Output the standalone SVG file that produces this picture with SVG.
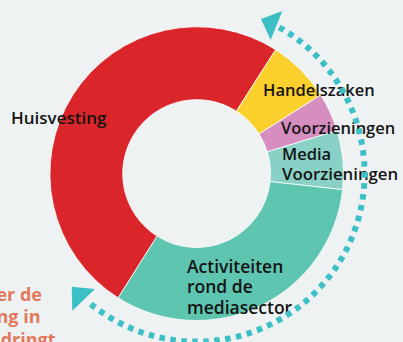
<svg xmlns="http://www.w3.org/2000/svg" width="403" height="342" viewBox="0 0 403 342">
<style>
.seg{stroke:#ffffff;stroke-width:0.8;stroke-linejoin:round}
.lbl{font-family:"Open Sans","Liberation Sans",sans-serif;font-weight:600;font-size:16.5px;fill:#141414}
.big{font-size:17.5px}
.side{font-family:"Open Sans","Liberation Sans",sans-serif;font-weight:700;font-size:18px;fill:#E2795D}
.arc{fill:none;stroke:#3DC0C5;stroke-width:6;stroke-dasharray:5.5 5.5}
.head{fill:#3DC0C5}
</style>
<rect width="403" height="342" fill="#EEF2F3"/>
<g id="side-text">
<text class="side" x="42" y="300.5" text-anchor="end">er de</text>
<text class="side" x="40.5" y="323" text-anchor="end">ng in</text>
<text class="side" x="55.5" y="345.5" text-anchor="end">dringt</text>
</g>
<g id="huisvesting">
<path class="seg" fill="#DA252B" d="M118.16,297.89 A147,147 0 1 1 275.70,49.65 L236.37,111.15 A74,74 0 1 0 157.07,236.12 Z"/>
<text class="lbl" x="11" y="123.5" style="font-size:17px">Huisvesting</text>
</g>
<g id="handelszaken">
<path class="seg" fill="#FBD02D" d="M275.70,49.65 A147,147 0 0 1 320.76,94.94 L259.05,133.95 A74,74 0 0 0 236.37,111.15 Z"/>
</g>
<g id="voorzieningen">
<path class="seg" fill="#D68DBF" d="M320.76,94.94 A147,147 0 0 1 337.08,130.52 L267.27,151.86 A74,74 0 0 0 259.05,133.95 Z"/>
</g>
<g id="media-voorzieningen">
<path class="seg" fill="#89D1C7" d="M337.08,130.52 A147,147 0 0 1 342.61,189.63 L270.06,181.62 A74,74 0 0 0 267.27,151.86 Z"/>
</g>
<g id="activiteiten">
<path class="seg" fill="#5EC5B0" d="M342.61,189.63 A147,147 0 0 1 118.16,297.89 L157.07,236.12 A74,74 0 0 0 270.06,181.62 Z"/>
</g>
<g id="labels">
<text class="lbl" x="263" y="95.5">Handelszaken</text>
<text class="lbl" x="281" y="134">Voorzieningen</text>
<text class="lbl" x="282" y="159.5">Media</text>
<text class="lbl" x="282" y="180" style="font-size:16.8px">Voorzieningen</text>
<text class="lbl big" x="187" y="272.5">Activiteiten</text>
<text class="lbl big" x="187" y="293.2">rond de</text>
<text class="lbl big" x="187" y="313.5">mediasector</text>
</g>
<g id="connectors">
<path class="arc" d="M279.2,27.3 A168,168 0 1 1 88.5,302.2"/>
<polygon class="head" points="261,19 282.3,11 270.7,40"/>
<polygon class="head" points="71.7,286.7 95,289 72.3,310.7"/>
</g>
</svg>
